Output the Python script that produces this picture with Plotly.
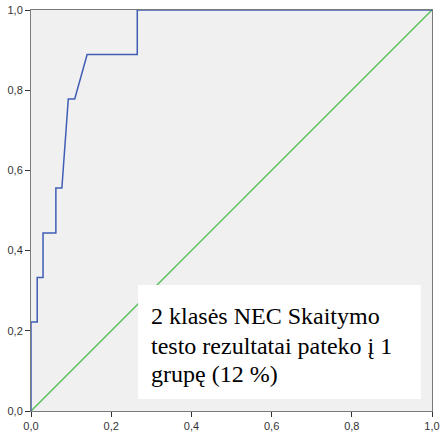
import plotly.graph_objects as go

# ROC curve points (1 - specificity, sensitivity)
roc_x = [0.0, 0.0, 0.0155, 0.0155, 0.030, 0.030, 0.062, 0.062, 0.077, 0.093, 0.109, 0.140, 0.265, 0.265, 1.0]
roc_y = [0.0, 0.222, 0.222, 0.333, 0.333, 0.444, 0.444, 0.556, 0.556, 0.778, 0.778, 0.889, 0.889, 1.0, 1.0]
ref_x = [0.0, 1.0]
ref_y = [0.0, 1.0]

tick_vals = [0.0, 0.2, 0.4, 0.6, 0.8, 1.0]
tick_text = ["0,0", "0,2", "0,4", "0,6", "0,8", "1,0"]

label_lines = ["2 klasės NEC Skaitymo", "testo rezultatai pateko į 1", "grupę (12 %)"]
label_line_y = [0.275, 0.2007, 0.1297]

fig = go.Figure()
fig.add_trace(go.Scatter(x=ref_x, y=ref_y, mode="lines",
                         line=dict(color="#5cc15c", width=1.5), hoverinfo="skip"))
fig.add_trace(go.Scatter(x=roc_x, y=roc_y, mode="lines",
                         line=dict(color="#3f5db5", width=1.5), hoverinfo="skip"))

fig.add_shape(type="rect", xref="x", yref="y", x0=0.267, x1=0.972, y0=0.030, y1=0.314,
              fillcolor="white", line=dict(width=0), layer="above")
for txt, ly in zip(label_lines, label_line_y):
    fig.add_annotation(x=0.294, y=ly, xref="x", yref="y", xanchor="left", yanchor="top",
                       text=txt, showarrow=False, align="left",
                       font=dict(family="Liberation Serif", size=24, color="#000000"))

axis_common = dict(range=[0, 1], tickvals=tick_vals, ticktext=tick_text, automargin=False,
                   showgrid=False, zeroline=False, showline=True, mirror=True,
                   linecolor="#7a7a7a", linewidth=1, ticks="outside", ticklen=5,
                   tickcolor="#333333", tickwidth=1,
                   tickfont=dict(family="Liberation Sans", size=11, color="#333333"))
fig.update_xaxes(**axis_common)
fig.update_yaxes(**axis_common)

fig.update_layout(width=441, height=435, margin=dict(l=31, r=9, t=10, b=24, autoexpand=False),
                  plot_bgcolor="#f0f0f0", paper_bgcolor="white", showlegend=False)

fig.write_html("out.html")
